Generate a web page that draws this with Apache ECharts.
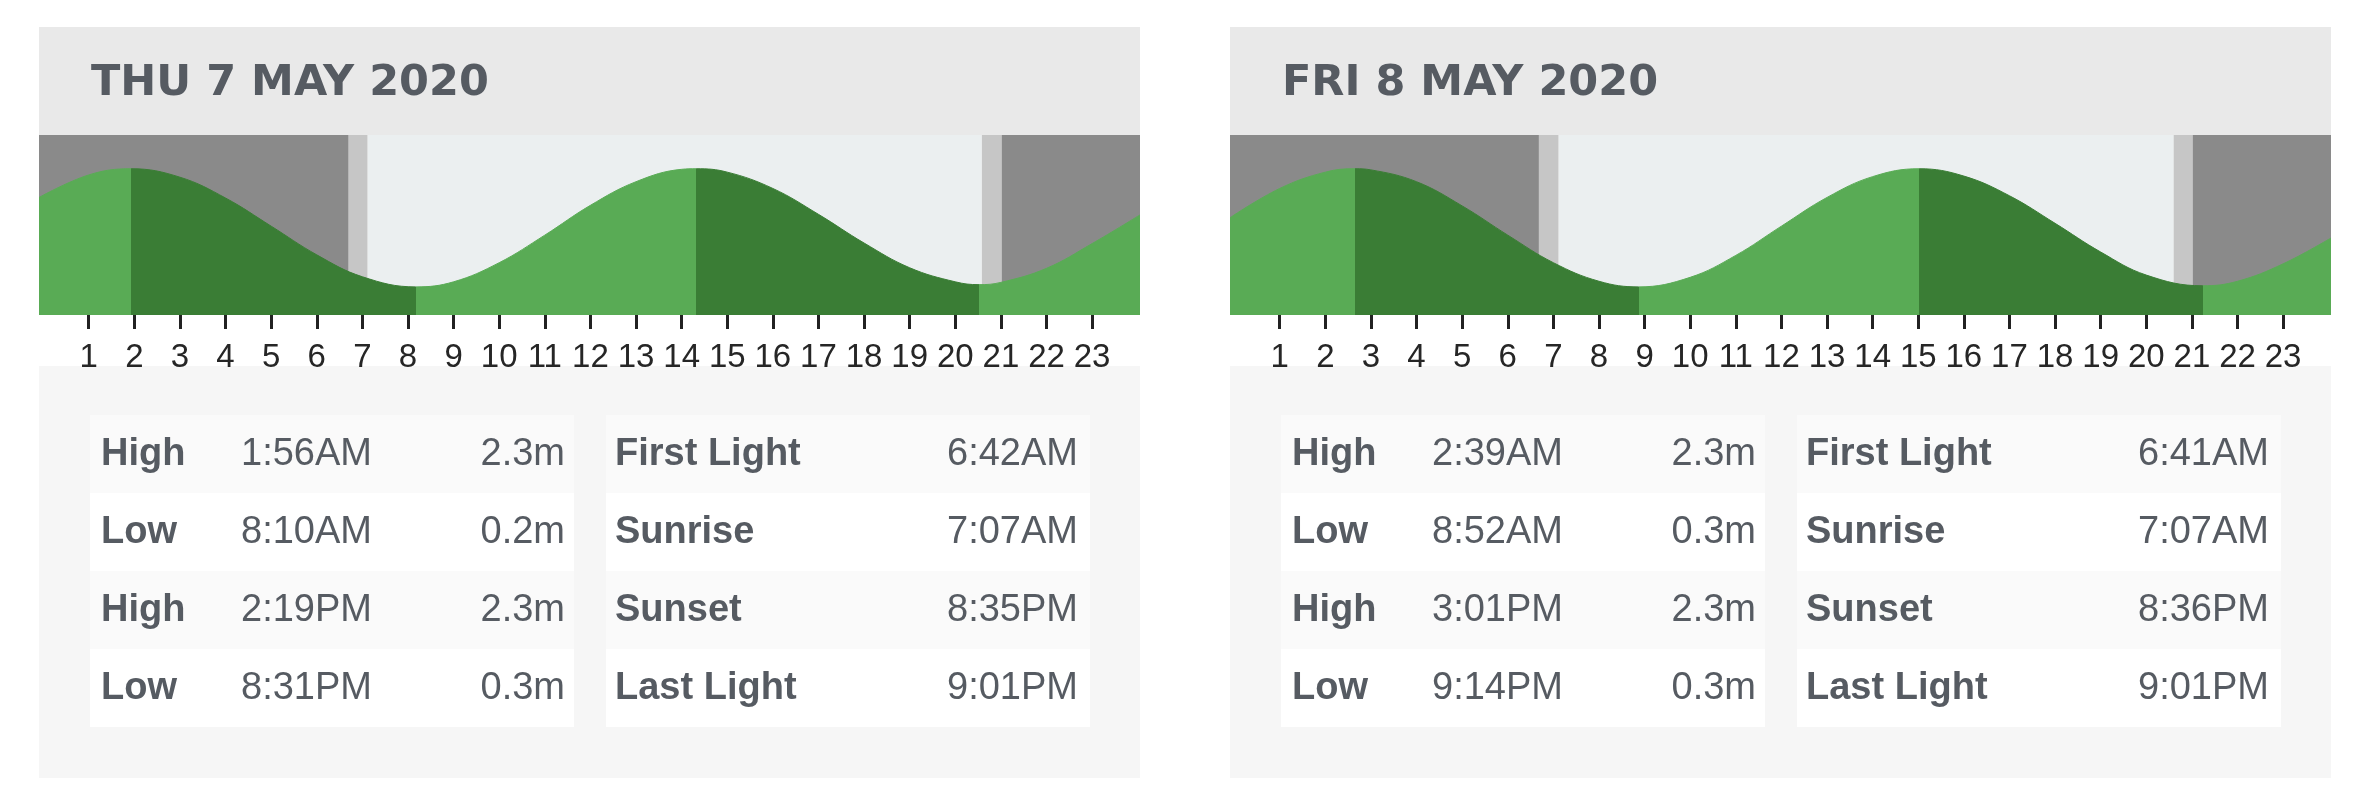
<!DOCTYPE html>
<html>
<head>
<meta charset="utf-8">
<script src="https://cdn.jsdelivr.net/npm/echarts@6/dist/echarts.min.js"></script>
<style>
  html, body { margin: 0; padding: 0; background: #fff; }
  #chart { width: 2358px; height: 807px; }
</style>
</head>
<body>
<div id="chart"></div>
<script>
// Day headings
const dayTitles = ['THU 7 MAY 2020', 'FRI 8 MAY 2020'];

// Hour ticks under each tide chart (first and last)
const firstHourTick = 1;
const lastHourTick = 23;

// Tide curve: [hour, height m] (first/last points are the panel edges)
const thuTide = [
  [-0.09, 1.79], [1, 2.19], [1.93, 2.3], [3, 2.15], [4, 1.78], [5, 1.28], [6, 0.77], [7, 0.38],
  [8.17, 0.2], [9, 0.29], [10, 0.63], [11, 1.12], [12, 1.65], [13, 2.07], [14, 2.29],
  [14.32, 2.3], [15, 2.24], [16, 1.95], [17, 1.49], [18, 0.98], [19, 0.54], [20, 0.29],
  [20.52, 0.24], [21, 0.28], [22, 0.53], [23, 0.97], [24.05, 1.48]
];
const friTide = [
  [-0.09, 1.43], [1, 1.95], [2, 2.24], [2.65, 2.3], [3, 2.28], [4, 2.07], [5, 1.64], [6, 1.12],
  [7, 0.63], [8, 0.3], [8.87, 0.2], [10, 0.37], [11, 0.76], [12, 1.28], [13, 1.79], [14, 2.16],
  [15.02, 2.3], [16, 2.17], [17, 1.82], [18, 1.33], [19, 0.82], [20, 0.41], [21.23, 0.22],
  [22, 0.3], [23, 0.61], [24.05, 1.07]
];

// Tide table
const tideTypes = ['High', 'Low', 'High', 'Low'];
const thuTideTimes = ['1:56AM', '8:10AM', '2:19PM', '8:31PM'];
const thuTideHeights = ['2.3m', '0.2m', '2.3m', '0.3m'];
const friTideTimes = ['2:39AM', '8:52AM', '3:01PM', '9:14PM'];
const friTideHeights = ['2.3m', '0.3m', '2.3m', '0.3m'];

// Sun table
const sunLabels = ['First Light', 'Sunrise', 'Sunset', 'Last Light'];
const thuSunTimes = ['6:42AM', '7:07AM', '8:35PM', '9:01PM'];
const friSunTimes = ['6:41AM', '7:07AM', '8:36PM', '9:01PM'];

const days = [
  { title: dayTitles[0], tide: thuTide, tideTimes: thuTideTimes, tideHeights: thuTideHeights, sunTimes: thuSunTimes },
  { title: dayTitles[1], tide: friTide, tideTimes: friTideTimes, tideHeights: friTideHeights, sunTimes: friSunTimes }
];

const RISING = '#59ab55';
const FALLING = '#3a7d35';
const NIGHT = '#8a8a8a';
const TWILIGHT = '#c6c6c6';
const DAYLIGHT = '#ebeff0';
const TEXT = '#565b62';

// hour axis runs a touch past 0..24 so the panel edges line up
const X_MIN = -0.09;
const X_MAX = 24.05;

// "8:31PM" -> 20.52
function toHours(s) {
  const m = s.match(/(\d+):(\d+)(AM|PM)/);
  let h = parseInt(m[1], 10) % 12;
  if (m[3] === 'PM') h += 12;
  return h + parseInt(m[2], 10) / 60;
}

const panelX = [39, 1230];
const panelW = 1101;
const pxPerHour = panelW / (X_MAX - X_MIN);

const grids = [], xAxes = [], yAxes = [], series = [], visualMaps = [], graphics = [];

days.forEach((d, i) => {
  const ox = panelX[i];
  const g = grids.length;

  // grid for the tide curve
  grids.push({ left: ox, top: 135, width: panelW, height: 180 });
  xAxes.push({ type: 'value', gridIndex: g, min: X_MIN, max: X_MAX, show: false });
  yAxes.push({ type: 'value', gridIndex: g, min: -0.3, max: 2.9, show: false });

  // thin strip under the curve: hour ticks 1..23 drawn as split lines
  grids.push({
    left: ox + (firstHourTick - X_MIN) * pxPerHour, top: 315,
    width: (lastHourTick - firstHourTick) * pxPerHour, height: 14
  });
  xAxes.push({
    type: 'value', gridIndex: g + 1, min: firstHourTick, max: lastHourTick, interval: 1,
    axisLine: { show: false, onZero: false },
    axisTick: { show: false },
    splitLine: { show: true, lineStyle: { color: '#222', width: 3 } },
    axisLabel: { margin: 12, fontSize: 33, color: '#262626', fontFamily: '"Liberation Sans", Arial, sans-serif' }
  });
  yAxes.push({ type: 'value', gridIndex: g + 1, min: 0, max: 1, show: false });

  // day / night background bands from the sun times
  const sun = d.sunTimes.map(toHours);
  const bands = [
    [X_MIN, sun[0], NIGHT], [sun[0], sun[1], TWILIGHT], [sun[1], sun[2], DAYLIGHT],
    [sun[2], sun[3], TWILIGHT], [sun[3], X_MAX, NIGHT]
  ].map(b => [{ xAxis: b[0], itemStyle: { color: b[2], opacity: 1 } }, { xAxis: b[1] }]);

  const s = series.length;
  series.push({
    type: 'line', xAxisIndex: g, yAxisIndex: g,
    data: d.tide, smooth: 0.4, symbol: 'none', silent: true,
    lineStyle: { width: 1 },
    areaStyle: { opacity: 1, origin: 'start' },
    markArea: { silent: true, data: bands }
  });

  // rising tide light green, falling tide dark green
  const bounds = [X_MIN].concat(d.tideTimes.map(toHours), [X_MAX]);
  const pieces = [];
  for (let k = 0; k < bounds.length - 1; k++) {
    const next = k < tideTypes.length ? tideTypes[k] : (tideTypes[k - 1] === 'Low' ? 'High' : 'Low');
    const p = { gte: bounds[k], color: next === 'High' ? RISING : FALLING };
    if (k === bounds.length - 2) p.lte = bounds[k + 1]; else p.lt = bounds[k + 1];
    pieces.push(p);
  }
  visualMaps.push({ type: 'piecewise', show: false, seriesIndex: s, dimension: 0, pieces: pieces });

  // header
  graphics.push({ type: 'rect', shape: { x: ox, y: 27, width: panelW, height: 108 }, style: { fill: '#e9e9e9' }, silent: true });
  graphics.push({
    type: 'text', x: ox + 52, y: 84, silent: true,
    style: { text: d.title, fill: TEXT, font: 'bold 43px "DejaVu Sans", sans-serif', verticalAlign: 'middle' }
  });

  // table panel
  graphics.push({ type: 'rect', shape: { x: ox, y: 366, width: panelW, height: 412 }, style: { fill: '#f6f6f6' }, silent: true });
  for (let r = 0; r < 4; r++) {
    const top = 415 + r * 78;
    const cy = top + 40;
    const rowFill = r % 2 === 0 ? '#fafafa' : '#ffffff';
    graphics.push({ type: 'rect', shape: { x: ox + 51, y: top, width: 484, height: 78 }, style: { fill: rowFill }, silent: true });
    graphics.push({ type: 'rect', shape: { x: ox + 567, y: top, width: 484, height: 78 }, style: { fill: rowFill }, silent: true });
    const txt = (x, str, bold, align) => ({
      type: 'text', x: x, y: cy, silent: true,
      style: {
        text: str, fill: TEXT, align: align, verticalAlign: 'middle',
        font: (bold ? 'bold ' : '') + '38px "Liberation Sans", Arial, sans-serif'
      }
    });
    graphics.push(txt(ox + 62, tideTypes[r], true, 'left'));
    graphics.push(txt(ox + 202, d.tideTimes[r], false, 'left'));
    graphics.push(txt(ox + 526, d.tideHeights[r], false, 'right'));
    graphics.push(txt(ox + 576, sunLabels[r], true, 'left'));
    graphics.push(txt(ox + 1039, d.sunTimes[r], false, 'right'));
  }
});

const chart = echarts.init(document.getElementById('chart'));
chart.setOption({
  animation: false,
  backgroundColor: '#ffffff',
  grid: grids,
  xAxis: xAxes,
  yAxis: yAxes,
  visualMap: visualMaps,
  series: series,
  graphic: graphics
});
</script>
</body>
</html>
